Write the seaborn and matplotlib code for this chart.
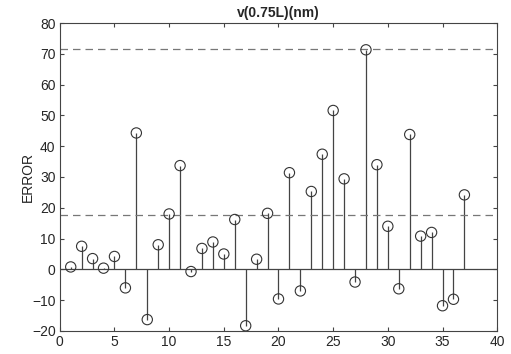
import matplotlib
matplotlib.use("Agg")
import matplotlib.pyplot as plt
import numpy as np
import pandas as pd
import seaborn as sns

idx = list(range(1, 38))
error = [0.8, 7.5, 3.5, 0.4, 4.2, -6.0, 44.3, -16.3, 8.0, 18.0,
         33.7, -0.7, 6.8, 8.9, 5.0, 16.2, -18.3, 3.3, 18.2, -9.6,
         31.4, -7.0, 25.3, 37.4, 51.6, 29.4, -4.1, 71.3, 34.0, 14.0,
         -6.3, 43.8, 10.8, 12.0, -11.8, -9.7, 24.2]
limits = [71.5, 17.5]

df = pd.DataFrame({"idx": idx, "error": error})

sns.set_style("ticks")
plt.rcParams["font.family"] = ["Liberation Sans", "DejaVu Sans"]

fig = plt.figure(figsize=(5.11, 3.54), dpi=100)
ax = fig.add_axes([0.117, 0.065, 0.856, 0.870])

ax.vlines(df["idx"], 0, df["error"], color="#444444", lw=0.9)
ax.axhline(0, color="#444444", lw=0.9)
for lim in limits:
    ax.axhline(lim, color="#777777", lw=0.9, ls=(0, (6, 4)))
sns.scatterplot(data=df, x="idx", y="error", ax=ax, marker="o", s=55,
                facecolor="none", edgecolor="#333333", linewidth=0.8,
                zorder=3)

ax.set_xlim(0, 40)
ax.set_ylim(-20, 80)
ax.set_xticks(range(0, 41, 5))
ax.set_yticks(range(-20, 81, 10))
ax.tick_params(direction="in", top=True, right=True, length=3,
               labelsize=10, color="#444444", pad=3)
for s in ax.spines.values():
    s.set_color("#444444")
    s.set_linewidth(0.8)
ax.set_xlabel("")
ax.set_ylabel("ERROR", fontsize=10)
ax.yaxis.set_label_coords(-0.058, 0.5)
ax.set_title("v(0.75L)(nm)", fontsize=10, fontweight="bold", pad=4)

fig.savefig("out.png", dpi=100)
